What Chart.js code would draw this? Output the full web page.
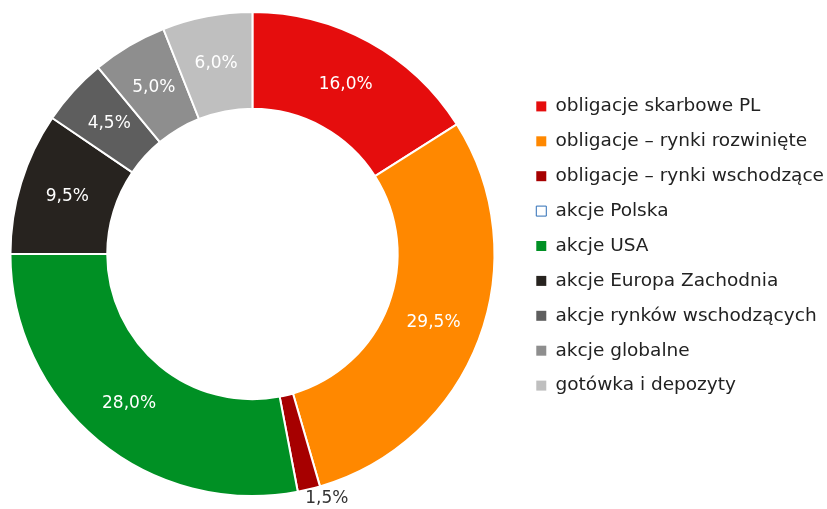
<!DOCTYPE html>
<html>
<head>
<meta charset="utf-8">
<script src="https://cdn.jsdelivr.net/npm/chart.js@4/dist/chart.umd.min.js"></script>
<style>
  html, body { margin: 0; padding: 0; background: #fff; }
  #wrap { width: 827px; height: 509px; }
</style>
</head>
<body>
<div id="wrap"><canvas id="portfel_chart"></canvas></div>
<script>
// dane
const categories = ['obligacje skarbowe PL', 'obligacje – rynki rozwinięte', 'obligacje – rynki wschodzące',
  'akcje Polska', 'akcje USA', 'akcje Europa Zachodnia', 'akcje rynków wschodzących',
  'akcje globalne', 'gotówka i depozyty'];
const shares = [16.0, 29.5, 1.5, 0, 28.0, 9.5, 4.5, 5.0, 6.0];
const colors = ['#e50d0d', '#ff8800', '#a60000', '#ffffff', '#009024', '#27231f', '#5e5e5e', '#8e8e8e', '#bfbfbf'];
const outsideLabels = [2]; // etykieta poza pierścieniem

const FONT = 'DejaVu Sans';

const fmt = v => v.toFixed(1).replace('.', ',') + '%';

// legenda zostaje przy prawej krawędzi, a pierścień przesuwa się w lewo
const legendShift = {
  id: 'legendShift',
  afterLayout(chart) {
    const lg = chart.legend;
    lg.left += 15; lg.right += 15;
    lg.top -= 8; lg.bottom -= 8;
  }
};

const sliceLabels = {
  id: 'sliceLabels',
  afterDatasetsDraw(chart) {
    const ctx = chart.ctx;
    const meta = chart.getDatasetMeta(0);
    ctx.save();
    ctx.font = '17px "' + FONT + '"';
    ctx.textBaseline = 'middle';
    meta.data.forEach((arc, i) => {
      const v = shares[i];
      if (!v) return;
      if (outsideLabels.includes(i)) {
        const a = (arc.startAngle + arc.endAngle) / 2;
        const r = arc.outerRadius + 10;
        ctx.fillStyle = '#333';
        ctx.textAlign = 'left';
        ctx.fillText(fmt(v), arc.x + Math.cos(a) * r - 6, arc.y + Math.sin(a) * r);
      } else {
        const p = arc.tooltipPosition();
        ctx.fillStyle = '#ffffff';
        ctx.textAlign = 'center';
        ctx.fillText(fmt(v), p.x, p.y);
      }
    });
    ctx.restore();
  }
};

const ctx = document.getElementById('portfel_chart').getContext('2d');
new Chart(ctx, {
  type: 'doughnut',
  data: {
    labels: categories,
    datasets: [{
      data: shares,
      backgroundColor: colors,
      borderColor: '#ffffff',
      borderWidth: 2
    }]
  },
  options: {
    responsive: true,
    maintainAspectRatio: false,
    animation: false,
    cutout: '60%',
    layout: { padding: { top: 11, bottom: 12, left: 0, right: 8 } },
    plugins: {
      tooltip: { enabled: false },
      legend: {
        position: 'right',
        align: 'center',
        labels: {
          boxWidth: 10,
          boxHeight: 10,
          padding: 16.4,
          color: '#222',
          font: { family: FONT, size: 18.5 },
          generateLabels(chart) {
            const items = Chart.overrides.doughnut.plugins.legend.labels.generateLabels(chart);
            items.forEach((it, i) => {
              if (i === 3) {
                it.fillStyle = '#ffffff';
                it.strokeStyle = '#2d6db5';
                it.lineWidth = 1;
              } else {
                it.fillStyle = colors[i];
                it.strokeStyle = colors[i];
                it.lineWidth = 0;
              }
              it.hidden = false;
            });
            return items;
          }
        }
      }
    }
  },
  plugins: [legendShift, sliceLabels]
});
</script>
</body>
</html>
